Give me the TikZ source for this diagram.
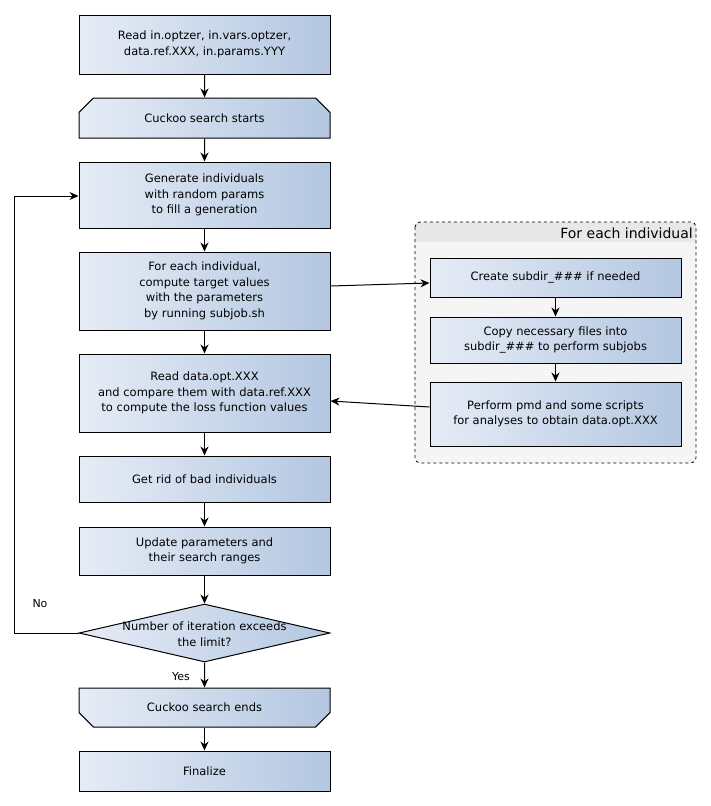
\documentclass[tikz,border=0pt]{standalone}
\usepackage{fontspec}
\setmainfont{DejaVu Sans}
\usetikzlibrary{shapes.misc,shapes.geometric,arrows.meta}
\definecolor{gl}{HTML}{E6ECF6}
\definecolor{gr}{HTML}{B3C7E1}
\begin{document}
\begin{tikzpicture}[x=1pt,y=-1pt,
  every node/.style={font=\fontsize{11.5}{15.5}\selectfont, align=center, inner sep=0pt},
  box/.style={draw=black, line width=1pt, left color=gl, right color=gr, minimum width=251pt},
  chamtop/.style={box, chamfered rectangle, chamfered rectangle corners={north west,north east}, chamfered rectangle xsep=6pt, chamfered rectangle ysep=10pt},
  chambot/.style={box, chamfered rectangle, chamfered rectangle corners={south west,south east}, chamfered rectangle xsep=6pt, chamfered rectangle ysep=10pt},
  arr/.style={draw=black, line width=1pt, -{Stealth[length=9pt,width=8pt]}},
  lbl/.style={font=\fontsize{11}{13}\selectfont}
]
\useasboundingbox (0,0) rectangle (711,806);

% group container
\filldraw[fill=black!4, draw=none, rounded corners=5pt] (415,222) rectangle (696,463);
\fill[black!9, rounded corners=5pt] (415,242) -- (415,222) -- (696,222) -- (696,242) -- cycle;
\fill[black!9] (415,234) rectangle (696,242);
\draw[dashed, line width=0.8pt, rounded corners=5pt] (415,222) rectangle (696,463);
\node[anchor=east, font=\fontsize{14}{16}\selectfont] (grp) at (693,233) {For each individual};

% main column
\node[box, minimum height=59pt] (b1) at (204.5,44.5) {Read in.optzer, in.vars.optzer,\\data.ref.XXX, in.params.YYY};
\node[chamtop, minimum height=40pt] (st) at (204.5,118) {Cuckoo search starts};
\node[box, minimum height=66pt] (gen) at (204.5,195) {Generate individuals\\with random params\\to fill a generation};
\node[box, minimum height=78pt] (comp) at (204.5,291) {For each individual,\\compute target values\\with the parameters\\by running subjob.sh};
\node[box, minimum height=78pt] (rd) at (204.5,393) {Read data.opt.XXX\\and compare them with data.ref.XXX\\to compute the loss function values};
\node[box, minimum height=46pt] (rid) at (204.5,479) {Get rid of bad individuals};
\node[box, minimum height=48pt] (upd) at (204.5,551) {Update parameters and\\their search ranges};
\node[diamond, draw=black, line width=1pt, left color=gl, right color=gr, minimum width=251pt, minimum height=58pt] (dia) at (204.5,633) {};
\node (diat) at (204.5,634) {Number of iteration exceeds\\the limit?};
\node[chambot, minimum height=39pt] (en) at (204.5,707.5) {Cuckoo search ends};
\node[box, minimum height=40pt] (fin) at (204.5,771) {Finalize};

% inner boxes
\node[box, minimum height=39pt] (cs) at (555.5,277.5) {Create subdir\_\#\#\# if needed};
\node[box, minimum height=46pt] (cp) at (555.5,340) {Copy necessary files into\\subdir\_\#\#\# to perform subjobs};
\node[box, minimum height=64pt] (pp) at (555.5,414) {Perform pmd and some scripts\\for analyses to obtain data.opt.XXX};

% labels
\node[lbl] (yes) at (181,677) {Yes};
\node[lbl] (no) at (40,604) {No};

% connectors
\draw[arr] (b1) -- (st);
\draw[arr] (st) -- (gen);
\draw[arr] (gen) -- (comp);
\draw[arr] (comp) -- (rd);
\draw[arr] (rd) -- (rid);
\draw[arr] (rid) -- (upd);
\draw[arr] (upd) -- (dia);
\draw[arr] (dia) -- (en);
\draw[arr] (en) -- (fin);
\draw[arr] (dia.west) -- ++(-64,0) |- ([yshift=-1pt]gen.west);
\draw[arr] ([yshift=5pt]comp.east) -- ([yshift=-5.5pt]cs.west);
\draw[arr] (cs) -- (cp);
\draw[arr] (cp) -- (pp);
\draw[arr] ([yshift=7pt]pp.west) -- ([yshift=-8pt]rd.east);
\end{tikzpicture}
\end{document}
